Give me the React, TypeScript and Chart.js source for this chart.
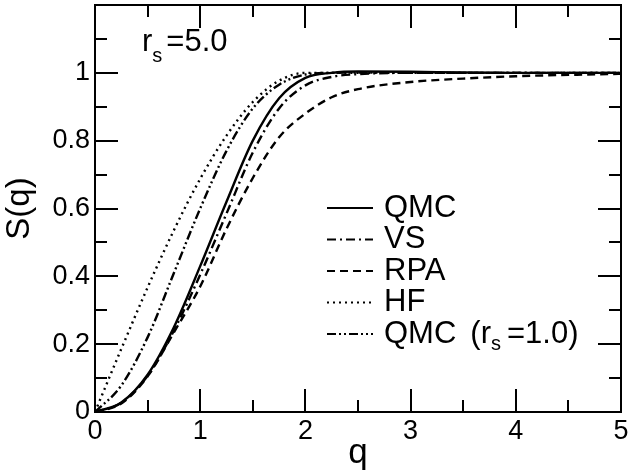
import React, { useEffect, useRef } from 'react';
import { Chart, registerables } from 'chart.js';

Chart.register(...registerables);

// ---- data ----
const qGrid = [0, 0.25, 0.5, 0.75, 1, 1.25, 1.5, 1.75, 2, 2.25, 2.5, 3, 3.5, 4, 4.5, 5];
const sQMC = [0, 0.028, 0.11, 0.25, 0.43, 0.62, 0.8, 0.925, 0.985, 1.0, 1.004, 1.003, 1.001, 1.0, 1.0, 1.0];
const sVS = [0, 0.027, 0.107, 0.24, 0.405, 0.585, 0.765, 0.895, 0.963, 0.988, 0.996, 1.0, 1.0, 1.0, 1.0, 1.0];
const sRPA = [0, 0.025, 0.105, 0.235, 0.37, 0.54, 0.69, 0.81, 0.88, 0.928, 0.952, 0.973, 0.983, 0.99, 0.994, 0.997];
const sHF = [0, 0.186, 0.367, 0.536, 0.6875, 0.815, 0.914, 0.977, 1.0, 1.0, 1.0, 1.0, 1.0, 1.0, 1.0, 1.0];
const sQMC1 = [0, 0.078, 0.22, 0.41, 0.6, 0.77, 0.895, 0.965, 0.995, 1.0, 1.001, 1.0, 1.0, 1.0, 1.0, 1.0];

const seriesNames = ['QMC', 'VS', 'RPA', 'HF', 'QMC (rs=1.0)'];
const xMajorTicks = [0, 1, 2, 3, 4, 5];
const xMinorTicks = [0.5, 1.5, 2.5, 3.5, 4.5];
const yMajorTicks = [0, 0.2, 0.4, 0.6, 0.8, 1.0];
const yMinorTicks = [0.1, 0.3, 0.5, 0.7, 0.9, 1.1];

const FONT = '"Liberation Sans", Arial, Helvetica, sans-serif';

const dashes: number[][] = [
  [],
  [9, 4, 2, 4],
  [8, 5],
  [2, 4],
  [9, 3, 2, 3, 2, 3],
];

const allSeries = [sQMC, sVS, sRPA, sHF, sQMC1];

const framePlugin = {
  id: 'frameTicks',
  afterDraw(chart: any) {
    const { ctx, chartArea } = chart;
    const { left, right, top, bottom } = chartArea;
    const xs = chart.scales.x;
    const ys = chart.scales.y;
    ctx.save();
    ctx.strokeStyle = '#000';
    ctx.lineWidth = 2;
    ctx.setLineDash([]);
    ctx.strokeRect(left, top, right - left, bottom - top);
    const major = 23;
    const minor = 12;
    ctx.beginPath();
    const xt = (v: number, len: number) => {
      const px = Math.round(xs.getPixelForValue(v));
      ctx.moveTo(px, bottom);
      ctx.lineTo(px, bottom - len);
      ctx.moveTo(px, top);
      ctx.lineTo(px, top + len);
    };
    const yt = (v: number, len: number) => {
      const py = Math.round(ys.getPixelForValue(v));
      ctx.moveTo(left, py);
      ctx.lineTo(left + len, py);
      ctx.moveTo(right, py);
      ctx.lineTo(right - len, py);
    };
    xMajorTicks.forEach((v) => xt(v, major));
    xMinorTicks.forEach((v) => xt(v, minor));
    yMajorTicks.forEach((v) => yt(v, major));
    yMinorTicks.forEach((v) => yt(v, minor));
    ctx.stroke();

    // legend
    ctx.fillStyle = '#000';
    ctx.textBaseline = 'middle';
    const lx0 = left + 232;
    const lx1 = left + 278;
    const tx = left + 289;
    seriesNames.forEach((name, i) => {
      const y = 208 + i * 31.5;
      ctx.beginPath();
      ctx.lineWidth = 2;
      ctx.setLineDash(dashes[i]);
      ctx.moveTo(lx0, y);
      ctx.lineTo(lx1, y);
      ctx.stroke();
      ctx.setLineDash([]);
      ctx.font = `31px ${FONT}`;
      if (name.includes('(rs=')) {
        const a0 = 'QMC';
        const a1 = '(r';
        const b = '=1.0)';
        ctx.fillText(a0, tx, y);
        let w = ctx.measureText(a0).width + 14;
        ctx.fillText(a1, tx + w, y);
        w += ctx.measureText(a1).width;
        ctx.font = `20px ${FONT}`;
        ctx.fillText('s', tx + w, y + 10);
        w += ctx.measureText('s').width + 6;
        ctx.font = `31px ${FONT}`;
        ctx.fillText(b, tx + w, y);
      } else {
        ctx.fillText(name, tx, y);
      }
    });

    // r_s = 5.0 label
    ctx.textBaseline = 'alphabetic';
    ctx.font = `31px ${FONT}`;
    const rx = left + 47;
    const ry = 51;
    ctx.fillText('r', rx, ry);
    let w2 = ctx.measureText('r').width;
    ctx.font = `20px ${FONT}`;
    ctx.fillText('s', rx + w2, ry + 11);
    w2 += ctx.measureText('s').width + 4;
    ctx.font = `31px ${FONT}`;
    ctx.fillText('=5.0', rx + w2, ry);
    ctx.restore();
  },
};

export default function App() {
  const ref = useRef<HTMLCanvasElement | null>(null);
  useEffect(() => {
    document.body.style.margin = '0';
    const canvas = ref.current;
    if (!canvas) return;
    const chart = new Chart(canvas, {
      type: 'line',
      data: {
        datasets: allSeries.map((s, i) => ({
          label: seriesNames[i],
          data: qGrid.map((q, k) => ({ x: q, y: s[k] })),
          borderColor: '#000',
          borderWidth: 2.4,
          borderDash: dashes[i],
          pointRadius: 0,
          fill: false,
          cubicInterpolationMode: 'monotone' as const,
        })),
      },
      options: {
        animation: false,
        responsive: false,
        maintainAspectRatio: false,
        layout: { padding: { top: 5, right: 23, left: 0, bottom: 0 } },
        plugins: { legend: { display: false }, tooltip: { enabled: false } },
        scales: {
          x: {
            type: 'linear',
            min: 0,
            max: 5,
            afterBuildTicks: (s: any) => {
              s.ticks = xMajorTicks.map((v) => ({ value: v }));
            },
            afterFit: (s: any) => {
              s.height = 62;
              s.paddingLeft = 0;
              s.paddingRight = 0;
            },
            grid: { display: false, drawTicks: false },
            border: { display: false },
            ticks: {
              color: '#000',
              font: { size: 27, family: FONT },
              padding: 3,
              maxRotation: 0,
              callback: (v: any) => String(Number(v)),
            },
            title: { display: true, text: 'q', color: '#000', font: { size: 35, family: FONT }, padding: 0 },
          },
          y: {
            type: 'linear',
            min: 0,
            max: 1.2,
            afterBuildTicks: (s: any) => {
              s.ticks = yMajorTicks.map((v) => ({ value: v }));
            },
            afterFit: (s: any) => {
              s.width = 95;
              s.paddingTop = 0;
              s.paddingBottom = 0;
            },
            grid: { display: false, drawTicks: false },
            border: { display: false },
            ticks: {
              color: '#000',
              font: { size: 27, family: FONT },
              padding: 5,
              callback: (v: any) => String(Number(Number(v).toFixed(1))),
            },
            title: { display: true, text: 'S(q)', color: '#000', font: { size: 33, family: FONT }, padding: 0 },
          },
        },
      },
      plugins: [framePlugin],
    });
    return () => chart.destroy();
  }, []);
  return (
    <div style={{ width: 644, height: 474 }}>
      <canvas ref={ref} width={644} height={474} style={{ display: 'block' }} />
    </div>
  );
}
